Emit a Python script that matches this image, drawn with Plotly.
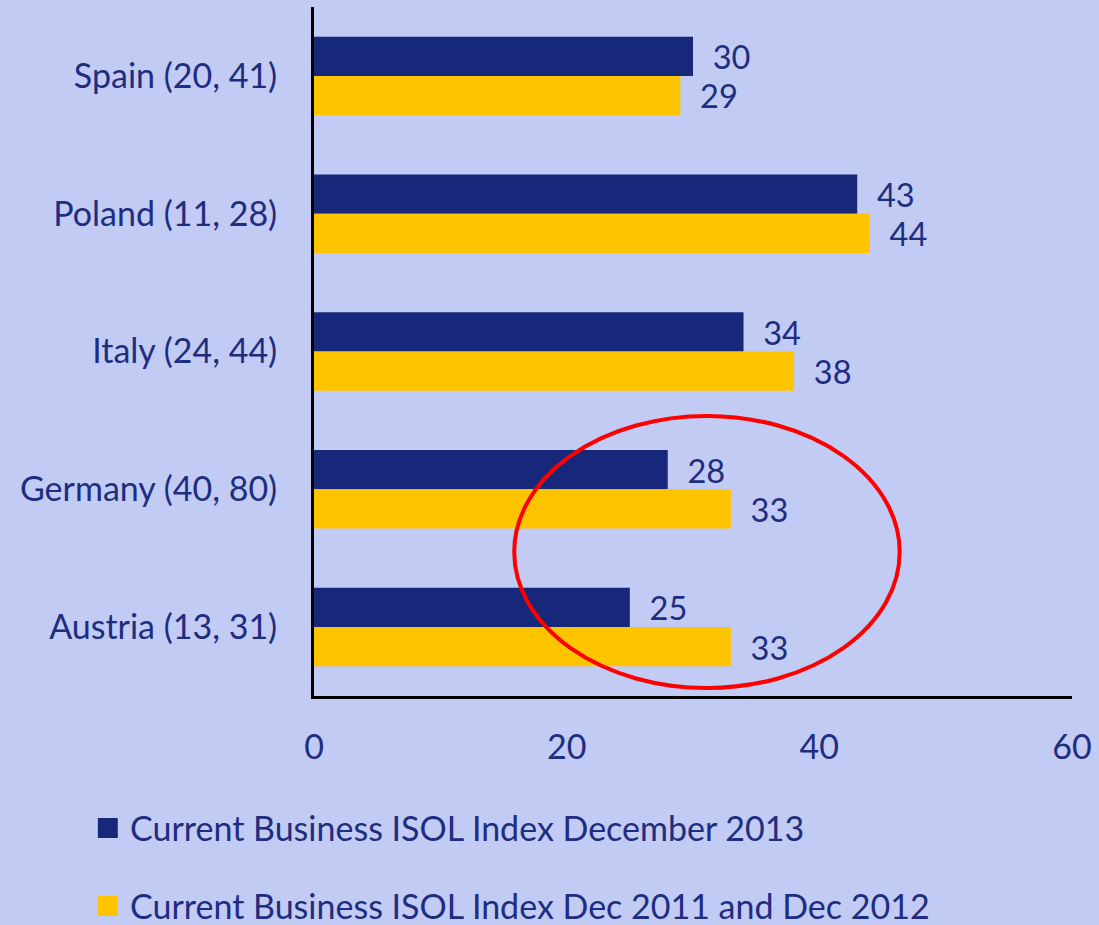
import plotly.graph_objects as go

countries = ['Spain (20, 41)', 'Poland (11, 28)', 'Italy (24, 44)', 'Germany (40, 80)', 'Austria (13, 31)']
dec_2013 = [30, 43, 34, 28, 25]
dec_11_12 = [29, 44, 38, 33, 33]
series_names = ['Current Business ISOL Index December 2013',
                'Current Business ISOL Index Dec 2011 and Dec 2012']
tick_vals = [0, 20, 40, 60]

navy = '#17287A'
yellow = '#FFC400'
bg = '#C1CBF3'
txt = '#1F2D80'
fsize = 34

# plot area in pixels
L, R, T, B = 314, 1075, 7, 696
W, H = 1099, 925

fig = go.Figure()
for name, vals, col in zip(series_names, [dec_2013, dec_11_12], [navy, yellow]):
    fig.add_trace(go.Bar(name=name, y=countries, x=vals, orientation='h',
                         marker={'color': col, 'line': {'width': 0}},
                         texttemplate='  %{x}', textposition='outside',
                         textfont={'size': fsize, 'color': txt},
                         cliponaxis=False, showlegend=False))

def px_x(p):
    return (p - L) / (R - L)

def px_y(p):
    return (B - p) / (B - T)

# legend drawn by hand below the plot (square key + label)
for name, col, cy in zip(series_names, [navy, yellow], [828, 906]):
    fig.add_shape(type='rect', xref='paper', yref='paper',
                  x0=px_x(97), x1=px_x(117), y0=px_y(cy - 10), y1=px_y(cy + 10),
                  fillcolor=col, line={'width': 0})
    fig.add_annotation(text=name, xref='paper', yref='paper',
                       x=px_x(127), y=px_y(cy), xanchor='left', yanchor='middle',
                       showarrow=False, font={'size': fsize, 'color': txt})

# red ellipse highlight
fig.add_shape(type='circle', xref='paper', yref='paper',
              x0=px_x(515), x1=px_x(902), y0=px_y(688), y1=px_y(416),
              line={'color': '#FF0000', 'width': 4})

fig.update_layout(
    width=W, height=H,
    paper_bgcolor=bg, plot_bgcolor=bg,
    margin={'l': L, 'r': W - R, 't': T, 'b': H - B},
    barmode='group', bargap=0.43, bargroupgap=0,
    font={'family': 'Lato', 'color': txt, 'size': fsize},
    showlegend=False,
    xaxis={'range': [0, 60], 'tickvals': tick_vals, 'showgrid': False,
           'zeroline': False, 'showline': True, 'linecolor': 'black',
           'linewidth': 3, 'ticks': '', 'ticklabelstandoff': 19,
           'tickfont': {'size': fsize, 'color': txt}, 'fixedrange': True},
    yaxis={'autorange': 'reversed', 'showgrid': False, 'zeroline': False,
           'showline': True, 'linecolor': 'black', 'linewidth': 3,
           'ticks': '', 'ticklabelstandoff': 27,
           'tickfont': {'size': fsize, 'color': txt}, 'fixedrange': True},
)

fig.write_html('out.html', config={'displayModeBar': False},
               post_script="document.body.style.margin='0';")
